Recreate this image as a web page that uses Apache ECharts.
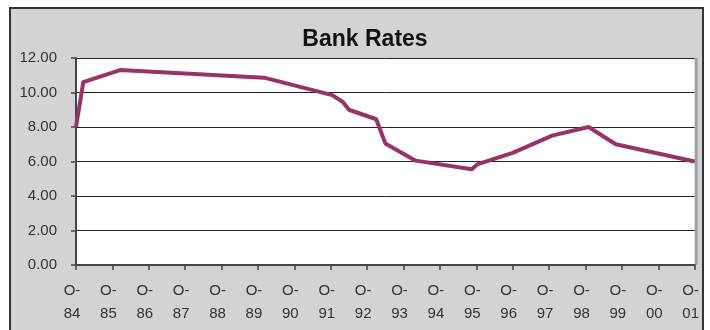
<!DOCTYPE html>
<html>
<head>
<meta charset="utf-8">
<script src="https://cdn.jsdelivr.net/npm/echarts@6/dist/echarts.min.js"></script>
<style>
html,body{margin:0;padding:0;background:#fff;}
#chart{width:710px;height:330px;}
</style>
</head>
<body>
<div id="chart"></div>
<script>
// months since October 1984
var months = [0, 2.4, 14.5, 62, 84.5, 88, 90, 99, 102, 112, 130.5, 132.5, 144, 157, 169, 178, 204];
var rates  = [8.0, 10.6, 11.3, 10.86, 9.85, 9.45, 9.0, 8.45, 7.05, 6.05, 5.55, 5.85, 6.5, 7.5, 8.0, 7.0, 6.0];
var yearLabels = ['84','85','86','87','88','89','90','91','92','93','94','95','96','97','98','99','00','01'];
var yTicks = [0, 2, 4, 6, 8, 10, 12];

var chart = echarts.init(document.getElementById('chart'), null, {renderer:'canvas'});
var font = '"Liberation Sans", Arial, sans-serif';
chart.setOption({
  animation: false,
  backgroundColor: '#fff',
  graphic: [{
    type: 'rect', z: -10, silent: true,
    shape: {x: 10, y: 8, width: 693, height: 330},
    style: {fill: '#d3d3d5', stroke: '#333', lineWidth: 2}
  }],
  title: {
    text: 'Bank Rates', left: 360, top: 23, textAlign: 'center',
    textStyle: {fontFamily: font, fontWeight: 'bold', fontSize: 23, color: '#111'}
  },
  grid: {
    left: 76, right: 14, top: 58, bottom: 65,
    show: true, backgroundColor: '#fff', borderWidth: 0,
    shadowColor: '#a0a0a0', shadowOffsetX: 3, shadowOffsetY: 0, shadowBlur: 0
  },
  xAxis: {
    type: 'value', min: 0, max: 204, interval: 12,
    axisLine: {show: true, lineStyle: {color: '#444', width: 2}},
    axisTick: {show: true, length: 5, lineStyle: {color: '#444', width: 1.5}},
    splitLine: {show: false},
    axisLabel: {
      fontFamily: font, fontSize: 15, color: '#333', lineHeight: 23, margin: 14,
      padding: [0, 8, 0, 0],
      formatter: function (v) { var i = Math.round(v / 12); return 'O-\n' + yearLabels[i]; }
    }
  },
  yAxis: {
    type: 'value', min: yTicks[0], max: yTicks[yTicks.length - 1], interval: 2,
    axisLine: {show: true, lineStyle: {color: '#444', width: 2}},
    axisTick: {show: true, length: 5, lineStyle: {color: '#444', width: 1.5}},
    splitLine: {show: true, lineStyle: {color: '#222', width: 1}},
    axisLabel: {
      fontFamily: font, fontSize: 15, color: '#333', margin: 19,
      formatter: function (v) { return v.toFixed(2); }
    }
  },
  series: [{
    type: 'line',
    data: months.map(function (m, i) { return [m, rates[i]]; }),
    symbol: 'none',
    lineStyle: {color: '#993366', width: 4, join: 'round'},
    itemStyle: {color: '#993366'}
  }]
});
</script>
</body>
</html>
